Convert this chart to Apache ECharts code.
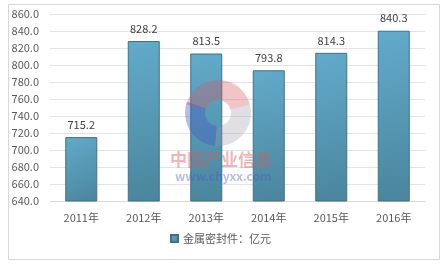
<!DOCTYPE html>
<html><head><meta charset="utf-8">
<script src="https://cdn.jsdelivr.net/npm/echarts@6/dist/echarts.min.js"></script>
<style>html,body{margin:0;padding:0;background:#fff}#c{width:441px;height:264px}</style>
</head><body><div id="c"></div>
<script>
const categories = ['2011年','2012年','2013年','2014年','2015年','2016年'];
const values = [715.2, 828.2, 813.5, 793.8, 814.3, 840.3];
const seriesName = '金属密封件：亿元';
const yMin = 640, yMax = 860, yStep = 20;

const chart = echarts.init(document.getElementById('c'));
const font = '"Microsoft YaHei","Noto Sans CJK SC",sans-serif';
const d = Math.PI / 180;
chart.setOption({
  animation: false,
  backgroundColor: '#fff',
  grid: {left: 50, right: 16, top: 14, bottom: 63},
  legend: {
    bottom: 15, left: 'center', itemWidth: 7, itemHeight: 7, itemGap: 5,
    textStyle: {color: '#595959', fontSize: 11, fontFamily: font},
    data: [{name: seriesName, icon: 'rect'}]
  },
  xAxis: {
    type: 'category', data: categories,
    axisLine: {lineStyle: {color: '#d9d9d9'}},
    axisTick: {show: false},
    axisLabel: {color: '#595959', fontSize: 11, margin: 11, fontFamily: font}
  },
  yAxis: {
    type: 'value', min: yMin, max: yMax, interval: yStep,
    axisLine: {show: false}, axisTick: {show: false},
    axisLabel: {color: '#595959', fontSize: 11, margin: 11, fontFamily: font,
      formatter: v => v.toFixed(1)},
    splitLine: {lineStyle: {color: '#e3e3e3'}}
  },
  series: [{
    name: seriesName, type: 'bar', data: values, barWidth: 32,
    itemStyle: {
      color: new echarts.graphic.LinearGradient(0, 0, 1, 1, [
        {offset: 0, color: '#62abcb'},
        {offset: 1, color: '#4a859c'}
      ]),
      borderColor: '#3f7187', borderWidth: 1
    },
    label: {show: true, position: 'top', color: '#404040', fontSize: 11, distance: 7,
      fontFamily: font, formatter: p => p.value.toFixed(1)}
  }],
  graphic: [
    {type: 'rect', left: 6, top: 2, shape: {width: 431, height: 255},
      style: {fill: 'none', stroke: '#d9d9d9', lineWidth: 1}, z: -1},
    {type: 'sector', shape: {cx: 218, cy: 113, r: 33, r0: 13, startAngle: 195 * d, endAngle: 345 * d},
      style: {fill: 'rgba(215,90,95,0.35)'}, z: 10},
    {type: 'sector', shape: {cx: 218, cy: 113, r: 33, r0: 13, startAngle: 95 * d, endAngle: 200 * d},
      style: {fill: 'rgba(70,90,190,0.4)'}, z: 10},
    {type: 'sector', shape: {cx: 218, cy: 113, r: 33, r0: 13, startAngle: -15 * d, endAngle: 95 * d},
      style: {fill: 'rgba(150,150,165,0.3)'}, z: 10},
    {type: 'text', left: 170, top: 151,
      style: {text: '中国产业信息', fill: 'rgba(215,90,95,0.45)', font: 'bold 17px ' + font}, z: 10},
    {type: 'text', left: 175, top: 170,
      style: {text: 'www.chyxx.com', fill: 'rgba(70,90,200,0.4)', font: 'bold 12px ' + font}, z: 10}
  ]
});
</script></body></html>
